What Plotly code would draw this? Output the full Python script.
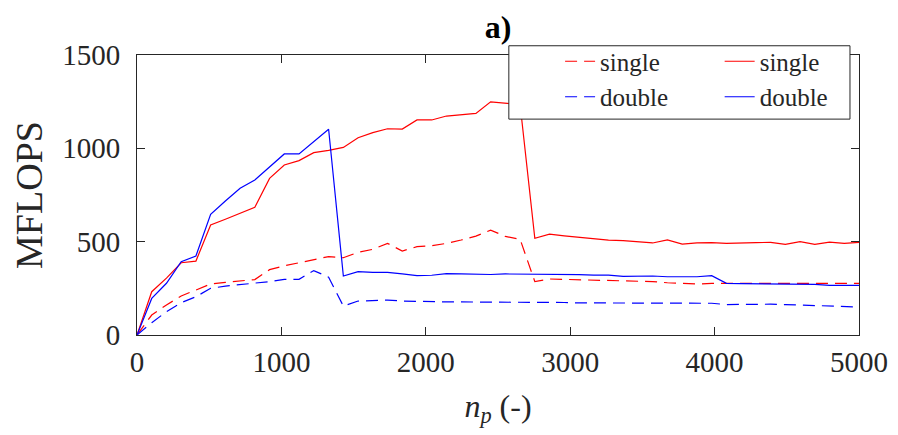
import plotly.graph_objects as go

n_p = [0, 102, 204, 306, 408, 510, 612, 714, 816, 918,
       1020, 1122, 1224, 1327, 1429, 1531, 1633, 1735, 1837, 1939,
       2041, 2143, 2245, 2347, 2449, 2551, 2653, 2755, 2857, 2959,
       3061, 3163, 3265, 3367, 3469, 3571, 3673, 3776, 3878, 3980,
       4082, 4184, 4286, 4388, 4490, 4592, 4694, 4796, 4898, 5000]

single_dashed = [0, 107, 161, 209, 241, 273, 282, 289, 297, 350,
                 371, 387, 405, 420, 414, 443, 459, 491, 450, 473,
                 478, 491, 509, 530, 562, 528, 513, 286, 300, 298,
                 298, 295, 291, 291, 289, 286, 280, 275, 273, 277,
                 277, 278, 278, 278, 279, 279, 279, 278, 278, 277]

double_dashed = [0, 66, 125, 173, 205, 250, 262, 268, 278, 286,
                 298, 298, 345, 310, 155, 182, 186, 187, 182, 179,
                 177, 177, 177, 177, 177, 177, 176, 176, 175, 174,
                 172, 172, 171, 171, 171, 171, 171, 171, 171, 170,
                 163, 165, 166, 165, 163, 160, 157, 155, 152, 150]

single_solid = [0, 232, 305, 387, 396, 589, 620, 652, 684, 839,
                911, 934, 977, 989, 1005, 1057, 1084, 1105, 1103, 1152,
                1152, 1173, 1178, 1187, 1249, 1240, 1235, 518, 540, 531,
                522, 513, 508, 506, 500, 493, 509, 487, 494, 495,
                491, 495, 495, 496, 486, 500, 486, 498, 491, 496]

double_solid = [0, 196, 277, 393, 423, 646, 718, 786, 830, 902,
                970, 970, 1036, 1102, 316, 339, 336, 336, 327, 318,
                320, 329, 327, 324, 324, 327, 327, 325, 327, 327,
                323, 321, 321, 314, 316, 316, 312, 314, 312, 318,
                277, 275, 275, 275, 273, 271, 271, 266, 266, 266]

x_ticks = [0, 1000, 2000, 3000, 4000, 5000]
y_ticks = [0, 500, 1000, 1500]

RED = "#ff0000"
BLUE = "#0000ff"
FONT = "Liberation Serif"
AX = "#262626"
DASH = "12px,7px"

# the page body has an 8px default margin, so the figure is sized to fill the rest
W, H = 890, 427

fig = go.Figure()
fig.add_trace(go.Scatter(x=n_p, y=single_dashed, mode="lines", name="single",
                         line=dict(color=RED, width=1.2, dash=DASH), legend="legend"))
fig.add_trace(go.Scatter(x=n_p, y=double_dashed, mode="lines", name="double",
                         line=dict(color=BLUE, width=1.2, dash=DASH), legend="legend"))
fig.add_trace(go.Scatter(x=n_p, y=single_solid, mode="lines", name="single",
                         line=dict(color=RED, width=1.2), legend="legend2"))
fig.add_trace(go.Scatter(x=n_p, y=double_solid, mode="lines", name="double",
                         line=dict(color=BLUE, width=1.2), legend="legend2"))

axis_common = dict(
    showline=True, linecolor=AX, linewidth=1, mirror="ticks",
    ticks="inside", ticklen=8, tickcolor=AX, tickwidth=1,
    showgrid=False, zeroline=False, automargin=False,
    tickfont=dict(family=FONT, size=29, color=AX),
)

fig.update_layout(
    width=W, height=H,
    margin=dict(l=129, r=39, t=47, b=100, autoexpand=False),
    paper_bgcolor="white", plot_bgcolor="white",
    title=dict(text="<b>a)</b>", x=0.5, xref="paper", y=1 - 19 / H, yref="container",
               xanchor="center", yanchor="middle", automargin=False,
               font=dict(family=FONT, size=32, color="black")),
    xaxis=dict(range=[0, 5000], tickvals=x_ticks, ticklabelstandoff=1,
               title=dict(text="<i>n</i><sub><i>p</i></sub> (-)", standoff=17,
                          font=dict(family=FONT, size=32, color=AX)),
               **axis_common),
    yaxis=dict(range=[0, 1500], tickvals=y_ticks, ticklabelstandoff=10,
               title=dict(text="MFLOPS", standoff=11,
                          font=dict(family=FONT, size=38, color=AX)),
               **axis_common),
    legend=dict(x=0.586, y=1.059, xanchor="left", yanchor="top",
                bgcolor="rgba(0,0,0,0)", borderwidth=0, tracegroupgap=0,
                font=dict(family=FONT, size=25, color=AX)),
    legend2=dict(x=0.807, y=1.059, xanchor="left", yanchor="top",
                 bgcolor="rgba(0,0,0,0)", borderwidth=0, tracegroupgap=0,
                 font=dict(family=FONT, size=25, color=AX)),
    shapes=[dict(type="rect", xref="paper", yref="paper",
                 x0=0.515, x1=0.9875, y0=0.771, y1=1.033,
                 line=dict(color=AX, width=1), fillcolor="white", layer="above")],
    showlegend=True,
)

fig.write_html("out.html")
